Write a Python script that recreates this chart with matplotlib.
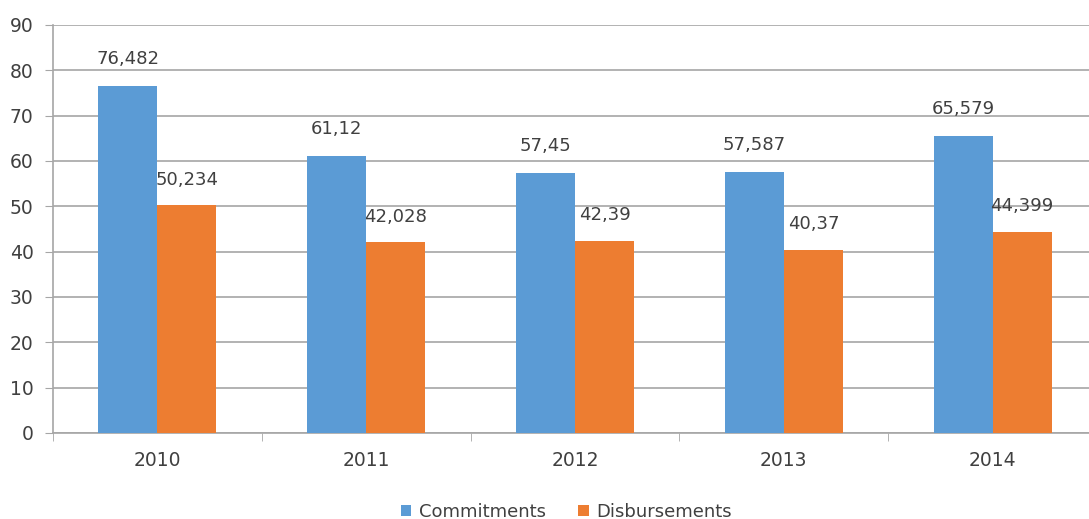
import numpy as np
import matplotlib.pyplot as plt

# datos del gráfico
anios = ["2010", "2011", "2012", "2013", "2014"]
commitments = [76.482, 61.12, 57.45, 57.587, 65.579]
disbursements = [50.234, 42.028, 42.39, 40.37, 44.399]
etiquetas_c = ["76,482", "61,12", "57,45", "57,587", "65,579"]
etiquetas_d = ["50,234", "42,028", "42,39", "40,37", "44,399"]

azul = "#5B9BD5"
naranja = "#ED7D31"
gris = "#A6A6A6"
texto = "#404040"

plt.rcParams['font.family'] = ['DejaVu Sans']

fig = plt.figure(figsize=(10.89, 5.19), dpi=100)
ax = fig.add_axes([53/1089, 1 - 433/519, 1044/1089, 408/519])

x = np.arange(len(anios))
w = 0.283
b1 = ax.bar(x - w/2, commitments, w, color=azul, label="Commitments", zorder=3)
b2 = ax.bar(x + w/2, disbursements, w, color=naranja, label="Disbursements", zorder=3)

for rect, lab in zip(b1, etiquetas_c):
    ax.annotate(lab, (rect.get_x() + rect.get_width()/2, rect.get_height()),
                xytext=(0, 13), textcoords="offset points", ha="center", va="bottom",
                fontsize=13, color=texto)
for rect, lab in zip(b2, etiquetas_d):
    ax.annotate(lab, (rect.get_x() + rect.get_width()/2, rect.get_height()),
                xytext=(0, 12), textcoords="offset points", ha="center", va="bottom",
                fontsize=13, color=texto)

ax.set_xlim(-0.5, 4.5)
ax.set_ylim(0, 90)
ax.set_yticks(np.arange(0, 91, 10))
ax.set_xticks(x)
ax.set_xticklabels(anios)
ax.set_xticks(np.arange(-0.5, 4.6, 1), minor=True)
ax.tick_params(axis="x", which="major", length=0, pad=13, labelsize=13.5, labelcolor=texto)
ax.tick_params(axis="x", which="minor", length=6, color=gris, direction="out")
ax.tick_params(axis="y", length=6, color=gris, pad=8, labelsize=13.5, labelcolor=texto)

ax.grid(axis="y", color=gris, linewidth=1.2, zorder=0)
for s in ["top", "right"]:
    ax.spines[s].set_visible(False)
ax.spines["left"].set_color(gris)
ax.spines["bottom"].set_color(gris)
ax.spines["left"].set_linewidth(1.2)
ax.spines["bottom"].set_linewidth(1.2)

fig.legend(loc="lower center", bbox_to_anchor=(0.52, -0.035), ncol=2, frameon=False,
           fontsize=13, handlelength=0.6, handleheight=0.6, handletextpad=0.4,
           columnspacing=1.8, labelcolor=texto)

fig.savefig("out.png", dpi=100)
